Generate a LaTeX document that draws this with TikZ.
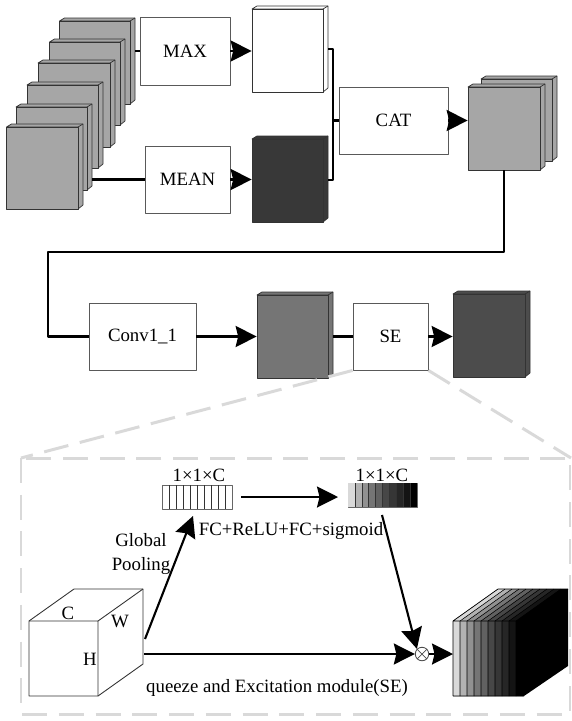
\documentclass[tikz,border=0pt]{standalone}
\usepackage{fontspec}
\setmainfont{Liberation Serif}
\usetikzlibrary{arrows.meta}
\tikzset{
	box/.style={draw=black!65,fill=white,line width=0.5pt,inner sep=0pt},
	face/.style={draw=black!80,line width=0.4pt,inner sep=0pt},
	link/.style={line width=1.2pt},
	bigarrow/.style={line width=1.2pt,-{Stealth[length=0.42cm,width=0.42cm,inset=0.05cm]}},
	zoomline/.style={draw=black!15,line width=1.7pt,dash pattern=on 0.5cm off 0.235cm},
	strip/.style={draw=black!80,line width=0.3pt}
}
\newcommand{\feat}[6]{
	\fill[#6,draw=black!80,line width=0.4pt] (#2,#3)--(#2+5,#3-3)--(#4+5,#3-3)--(#4+5,#5-4)--(#4,#5)--(#4,#3)--cycle;
	\draw[black!80,line width=0.4pt] (#4,#3)--(#4+5,#3-3);
	\node[face,fill=#6,minimum width=(#4-#2)*0.02cm,minimum height=(#5-#3)*0.02cm] (#1) at ({(#2+#4)/2},{(#3+#5)/2}) {};
	\coordinate (#1r) at (#4+5,{(#3+#5)/2});
}
\newcommand{\opbox}[6]{
	\node[box,minimum width=(#4-#2)*0.02cm,minimum height=(#5-#3)*0.02cm] (#1) at ({(#2+#4)/2},{(#3+#5)/2}) {#6};
}
\begin{document}
\begin{tikzpicture}[x=0.02cm,y=-0.02cm,line join=round,font=\fontsize{10.7pt}{12pt}\selectfont]
	\useasboundingbox (0,0) rectangle (572,721);
	\feat{sa}{59.5}{21}{130}{104}{black!35}
	\feat{sb}{49.5}{42}{120}{125}{black!35}
	\feat{sc}{38}{63}{110}{147}{black!35}
	\feat{sd}{27}{85}{98}{168}{black!35}
	\feat{se}{16}{107}{87}{190}{black!35}
	\feat{sf}{6.5}{127}{78}{209}{black!35}
	\opbox{max}{140}{17}{230}{85}{MAX}
	\opbox{mean}{145}{146}{230}{213}{MEAN}
	\feat{maxf}{252}{9}{323}{92}{white}
	\feat{meanf}{252}{139}{323}{222}{black!78}
	\opbox{cat}{339}{87}{448}{154}{CAT}
	\feat{catb}{481}{79}{552}{161}{black!35}
	\feat{catf}{468}{87}{540}{170}{black!35}
	\opbox{conv}{89}{303}{196}{370}{Conv1\_1}
	\feat{convf}{257}{295}{328}{378}{black!54}
	\opbox{se}{353}{303}{428}{370}{SE}
	\feat{sef}{453}{294}{525}{377}{black!70}
	\draw[link] (sar |- max.west)--(max.west);
	\draw[link] (ser |- mean.west)--(mean.west);
	\draw[bigarrow] (max.east)--(max.east -| maxf.west);
	\draw[bigarrow] (mean.east)--(mean.east -| meanf.west);
	\coordinate (jointop) at (333,49);
	\coordinate (joinbot) at (333,180);
	\draw[link] (maxfr |- jointop)--(jointop)--(joinbot)--(meanfr |- joinbot);
	\draw[link] (jointop |- cat.west)--(cat.west);
	\draw[bigarrow] (cat.east)--(cat.east -| catf.west);
	\coordinate (turna) at (504,252);
	\coordinate (turnb) at (48,252);
	\draw[link] (catf.south)--(turna)--(turnb)--(turnb |- conv.west)--(conv.west);
	\draw[bigarrow] (conv.east)--(conv.east -| convf.west);
	\draw[link] (convfr |- se.west)--(se.west);
	\draw[bigarrow] (se.east)--(se.east -| sef.west);
	\coordinate (framel) at (21,458);
	\coordinate (framer) at (571,458);
	\draw[zoomline] (se.south west)--(framel);
	\draw[zoomline] (se.south east)--(framer);
	\draw[zoomline] (framel) rectangle (570,714);
	\node[draw=black!60,line width=0.5pt,inner sep=0pt,minimum width=1.4cm,minimum height=0.48cm] (gridin) at (197,497) {};
	\foreach \i in {1,...,9}
		\draw[strip] (162+7*\i,485)--(162+7*\i,509);
	\node[draw=black!60,line width=0.5pt,inner sep=0pt,minimum width=1.38cm,minimum height=0.48cm] (gridout) at (382.5,495) {};
	\foreach \i/\g in {0/15,1/30,2/43,3/54,4/62,5/72,6/79,7/85,8/92,9/100}
		\fill[black!\g] (348+6.9*\i,483) rectangle (354.9+6.9*\i,507);
	\foreach \i in {1,...,9}
		\draw[strip] (348+6.9*\i,483)--(348+6.9*\i,507);
	\node (sizein) at (199,475) {1×1×C};
	\node (sizeout) at (382,475) {1×1×C};
	\node (fclabel) at (291,531) {FC+ReLU+FC+sigmoid};
	\node[align=center,font=\fontsize{10.7pt}{13.5pt}\selectfont] (pool) at (141,554) {Global\\Pooling};
	\node (selabel) at (277,688) {queeze and Excitation module(SE)};
	\draw[bigarrow] (gridin.east)++(9,0)--(338,497);
	\draw[black!80,line width=0.5pt,fill=white] (29,621)--(74,589)--(143,589)--(143,664)--(98,696)--(29,696)--cycle;
	\draw[black!80,line width=0.5pt] (29,621)--(98,621)--(143,589) (98,621)--(98,696);
	\node (cubec) at (68,613) {C};
	\node (cubew) at (120,621) {W};
	\node (cubeh) at (90,659) {H};
	\coordinate (cubeout) at (144,654);
	\coordinate (cubeup) at (145,639);
	\node[circle,draw=black!70,fill=white,line width=0.5pt,minimum size=0.27cm,inner sep=0pt] (mul) at (422,654) {};
	\draw[black!70,line width=0.4pt] (mul.north west)--(mul.south east) (mul.north east)--(mul.south west);
	\draw[bigarrow] (cubeup)--(193,516);
	\draw[bigarrow] (cubeout)--(mul.west);
	\coordinate (gridoutb) at (382,515);
	\draw[bigarrow] (gridoutb)--(mul.north west);
	\fill[black] (453,621)--(498,589)--(568,589)--(568,666)--(524,696)--(453,696)--cycle;
	\foreach \i/\g in {0/15,1/30,2/43,3/54,4/62,5/72,6/79,7/85,8/92,9/100}
		\fill[black!\g] (453+7*\i,621) rectangle (460+7*\i,696)
			(453+7*\i,621)--(460+7*\i,621)--(505+7*\i,589)--(498+7*\i,589)--cycle;
	\foreach \i in {0,...,9}
		\draw[black,line width=0.3pt] (460+7*\i,621)--(505+7*\i,589) (460+7*\i,621)--(460+7*\i,696);
	\draw[black,line width=0.4pt] (453,696)--(453,621)--(498,589)--(568,589) (453,621)--(524,621) (453,696)--(524,696);
	\node[inner sep=0pt,minimum size=0.5cm] (gradf) at (453,654) {};
	\draw[bigarrow] (mul.east)--(gradf.center);
\end{tikzpicture}
\end{document}
